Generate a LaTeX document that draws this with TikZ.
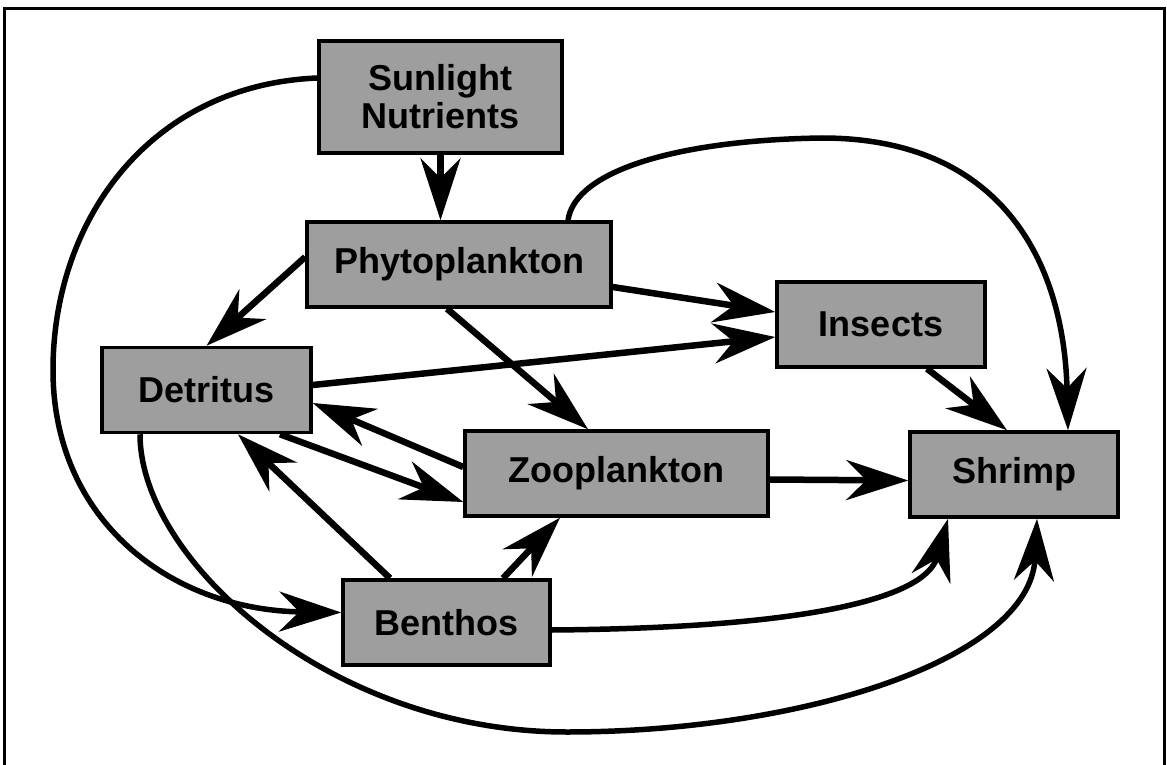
\documentclass[tikz,border=0pt]{standalone}
\usepackage{fontspec}
\setmainfont{Liberation Sans}
\usetikzlibrary{arrows.meta}
\tikzstyle{connector} = [line width=6.5pt, -{Stealth[length=62pt,width=40pt,inset=20pt]}]
\tikzstyle{curveconnector} = [connector, line width=5.5pt]
\tikzstyle{nodebox} = [rectangle, draw, line width=3.5pt, fill=black!38, font=\bfseries\fontsize{36}{38}\selectfont, minimum height=85pt]

\begin{document}
\begin{tikzpicture}[x=1pt, y=-1pt]
                \useasboundingbox (0,0) rectangle (1167,765);
                \draw [line width=3pt] (4,766) -- (4,9) -- (1164,9) -- (1164,766);

                \node (sunlight) [nodebox, minimum width=243pt, minimum height=112pt, align=center] at (440.5,97) {Sunlight\\Nutrients};
                \node (phyto) [nodebox, minimum width=304pt] at (459,264.5) {Phytoplankton};
                \node (detritus) [nodebox, minimum width=209pt] at (206.5,390) {Detritus};
                \node (insects) [nodebox, minimum width=208pt] at (881,324.5) {Insects};
                \node (zoo) [nodebox, minimum width=303pt] at (616.5,473.5) {Zooplankton};
                \node (shrimp) [nodebox, minimum width=208pt] at (1014,474.5) {Shrimp};
                \node (benthos) [nodebox, minimum width=207pt] at (446.5,622.5) {Benthos};

                \draw [connector] (sunlight.south) -- (sunlight.south |- phyto.north);
                \draw [connector] ([yshift=7.5pt]phyto.west) -- (detritus.north);
                \draw [connector] ([xshift=-12pt]phyto.south) -- ([xshift=-28.5pt]zoo.north);
                \draw [connector] ([yshift=-22.5pt]phyto.east) -- ([yshift=12.5pt]insects.west);
                \draw [connector] ([yshift=5pt]detritus.east) -- ([yshift=-12.5pt]insects.west);
                \draw [connector] ([yshift=6.5pt]zoo.west) -- ([yshift=-13pt]detritus.east);
                \draw [connector] ([xshift=73.5pt]detritus.south) -- ([yshift=-28.5pt]zoo.west);
                \draw [connector] ([xshift=-56.5pt]benthos.north) -- ([xshift=31.5pt]detritus.south);
                \draw [connector] ([xshift=56.5pt]benthos.north) -- ([xshift=-56.5pt]zoo.south);
                \draw [connector] ([yshift=-6pt]zoo.east) -- ([yshift=-6pt]shrimp.west);
                \draw [connector] ([xshift=46pt]insects.south) -- ([xshift=-7pt]shrimp.north);

                \draw [curveconnector] ([xshift=109pt]phyto.north) .. controls (575,170) and (680,140) .. (822,138)
                    .. controls (1000,138) and (1064,260) .. ([xshift=54pt]shrimp.north);
                \draw [curveconnector] ([yshift=-7.5pt]benthos.east) .. controls (800,628) and (925,600) .. ([xshift=-66pt]shrimp.south);
                \draw [curveconnector] ([xshift=-66.5pt]detritus.south) .. controls (140,560) and (330,732) .. (567,732)
                    .. controls (800,732) and (1030,660) .. ([xshift=23pt]shrimp.south);
                \draw [curveconnector] ([yshift=19pt]sunlight.west) .. controls (150,85) and (53,220) .. (53,370)
                    .. controls (53,520) and (170,610) .. ([yshift=10pt]benthos.west);
            \end{tikzpicture}
\end{document}
